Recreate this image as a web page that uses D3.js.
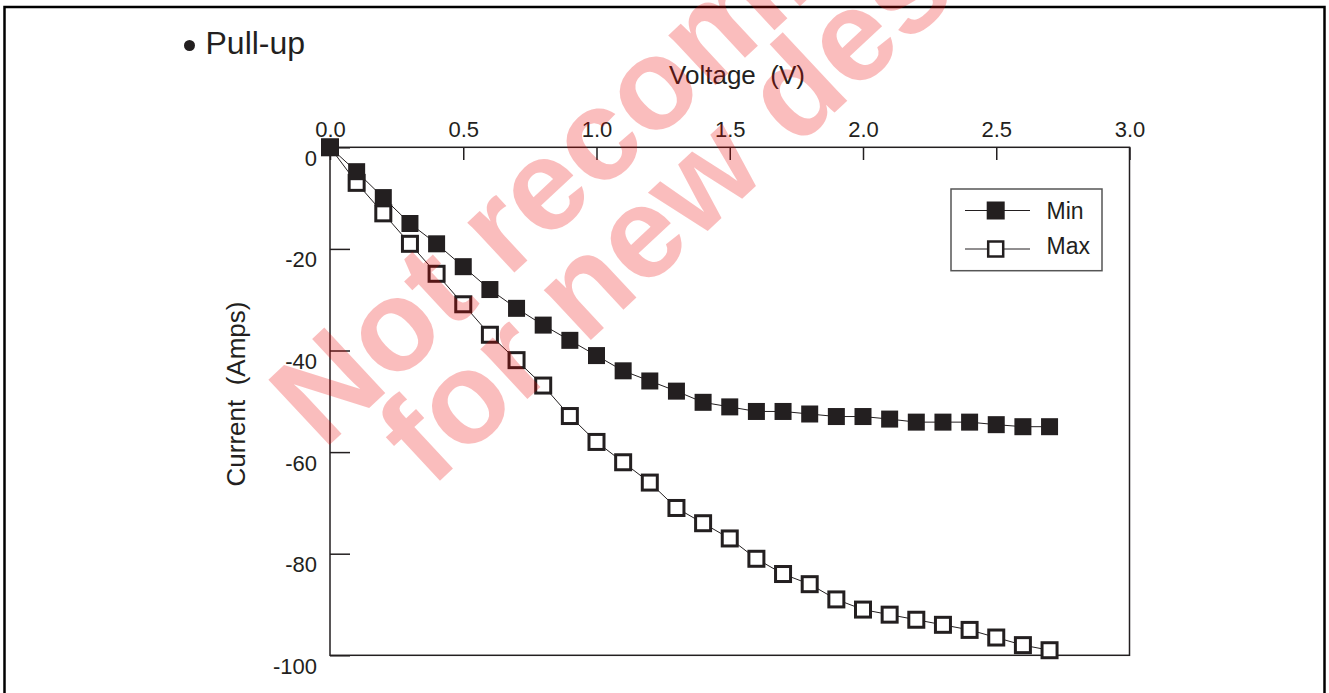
<!DOCTYPE html>
<html>
<head>
<meta charset="utf-8">
<script src="https://cdn.jsdelivr.net/npm/d3@7"></script>
<style>
  html, body { margin: 0; padding: 0; background: #fff; }
  svg { display: block; font-family: "Liberation Sans", Arial, Helvetica, sans-serif; }
</style>
</head>
<body>
<svg id="chart" width="1329" height="693"></svg>
<script>
// ---- data ----
const voltage = [0.0,0.1,0.2,0.3,0.4,0.5,0.6,0.7,0.8,0.9,1.0,1.1,1.2,1.3,1.4,1.5,1.6,1.7,1.8,1.9,2.0,2.1,2.2,2.3,2.4,2.5,2.6,2.7];
const minCurrent = [0,-4.8,-9.9,-15,-19,-23.5,-28,-31.7,-35,-38,-41,-44,-46,-48,-50.2,-51.1,-52,-52,-52.5,-53,-53,-53.5,-54.1,-54.1,-54.1,-54.6,-55,-55];
const maxCurrent = [0,-7,-13,-19,-24.9,-30.9,-36.9,-41.9,-46.9,-52.9,-58,-62,-66,-71,-74,-77,-81,-84,-86,-89,-91,-92,-93,-94,-95,-96.5,-98,-99];
const xTicks = [0.0,0.5,1.0,1.5,2.0,2.5,3.0];
const yTicks = [0,-20,-40,-60,-80,-100];
const seriesNames = ["Min","Max"];
const titleText = "Pull-up";
const xTitle = "Voltage  (V)";
const yTitle = "Current  (Amps)";
const watermarkLines = ["Not recommended","for new designs"];

const svg = d3.select("#chart");
const ink = "#231f20";

// outer frame
svg.append("rect").attr("x",4.5).attr("y",7).attr("width",1320).attr("height",720)
  .attr("fill","none").attr("stroke","#000").attr("stroke-width",2.5);

// title
svg.append("circle").attr("cx",189.5).attr("cy",45.5).attr("r",5.5).attr("fill",ink);
svg.append("text").attr("x",205.5).attr("y",54).attr("font-size",32).attr("fill",ink).text(titleText);

const x = d3.scaleLinear().domain([0,3]).range([330,1129.5]);
const y = d3.scaleLinear().domain([0,-100]).range([147.3,655.3]);

// axes
const xAxis = d3.axisTop(x).tickValues(xTicks).tickFormat(d3.format(".1f"))
  .tickSizeInner(-12.7).tickSizeOuter(0).tickPadding(10);
const gx = svg.append("g").attr("transform",`translate(0,${y(0)})`).call(xAxis);
gx.select(".domain").remove();
gx.selectAll(".tick line").attr("stroke",ink).attr("stroke-width",1.5);
gx.selectAll(".tick text").attr("font-size",22).attr("fill",ink).attr("font-family",null);

const yAxis = d3.axisLeft(y).tickValues(yTicks).tickFormat(d => String(d))
  .tickSizeInner(-20).tickSizeOuter(0).tickPadding(13);
const gy = svg.append("g").attr("transform",`translate(${x(0)},0)`).call(yAxis);
gy.select(".domain").remove();
gy.selectAll(".tick line").attr("stroke",ink).attr("stroke-width",1.5);
gy.selectAll(".tick text").attr("font-size",22).attr("fill",ink).attr("dy",18).attr("font-family",null);

// plot frame
svg.append("rect").attr("x",x(0)).attr("y",y(0)).attr("width",x(3)-x(0)).attr("height",y(-100)-y(0))
  .attr("fill","none").attr("stroke",ink).attr("stroke-width",1.5);

// axis titles
svg.append("text").attr("x",737).attr("y",83.5).attr("text-anchor","middle")
  .attr("font-size",26).attr("fill",ink).style("white-space","pre").text(xTitle);
svg.append("text").attr("transform","translate(245,394) rotate(-90)").attr("text-anchor","middle")
  .attr("font-size",26).attr("fill",ink).style("white-space","pre").text(yTitle);

// series
const line = d3.line().x(d => x(d[0])).y(d => y(d[1]));
const maxData = voltage.map((v,i) => [v, maxCurrent[i]]);
const minData = voltage.map((v,i) => [v, minCurrent[i]]);

function drawOpen(g, data){
  g.append("path").datum(data).attr("d",line).attr("fill","none").attr("stroke",ink).attr("stroke-width",1);
  g.selectAll("rect.m").data(data).enter().append("rect").attr("class","m")
    .attr("x",d => x(d[0])-7.5).attr("y",d => y(d[1])-7.5).attr("width",15).attr("height",15)
    .attr("fill","#fff").attr("stroke",ink).attr("stroke-width",3);
}
function drawFilled(g, data){
  g.append("path").datum(data).attr("d",line).attr("fill","none").attr("stroke",ink).attr("stroke-width",1);
  g.selectAll("rect.m").data(data).enter().append("rect").attr("class","m")
    .attr("x",d => x(d[0])-8.5).attr("y",d => y(d[1])-8.5).attr("width",17).attr("height",17)
    .attr("fill",ink);
}
drawOpen(svg.append("g"), maxData);
drawFilled(svg.append("g"), minData);

// legend
const lg = svg.append("g");
lg.append("rect").attr("x",951).attr("y",189).attr("width",151).attr("height",81.7)
  .attr("fill","#fff").attr("stroke","#555").attr("stroke-width",1.5);
const legY = [210.5, 249];
const legTextY = [218.5, 253.5];
seriesNames.forEach((name,i) => {
  lg.append("line").attr("x1",965).attr("x2",1030).attr("y1",legY[i]).attr("y2",legY[i])
    .attr("stroke",ink).attr("stroke-width",1);
  if (i === 0) {
    lg.append("rect").attr("x",995.7-9).attr("y",legY[i]-9).attr("width",18).attr("height",18).attr("fill",ink);
  } else {
    lg.append("rect").attr("x",995.7-7.5).attr("y",legY[i]-7.5).attr("width",15).attr("height",15)
      .attr("fill","#fff").attr("stroke",ink).attr("stroke-width",2.5);
  }
  lg.append("text").attr("x",1046.5).attr("y",legTextY[i]).attr("font-size",23).attr("fill",ink).text(name);
});

// watermark
const wm = svg.append("g").attr("pointer-events","none");
const wmPos = [[323,451],[431,489]];
watermarkLines.forEach((t,i) => {
  wm.append("text").attr("transform",`translate(${wmPos[i][0]},${wmPos[i][1]}) rotate(-43)`)
    .attr("font-size",130).attr("font-weight","bold").attr("fill","#ea0000").attr("fill-opacity",0.26)
    .text(t);
});
</script>
</body>
</html>
